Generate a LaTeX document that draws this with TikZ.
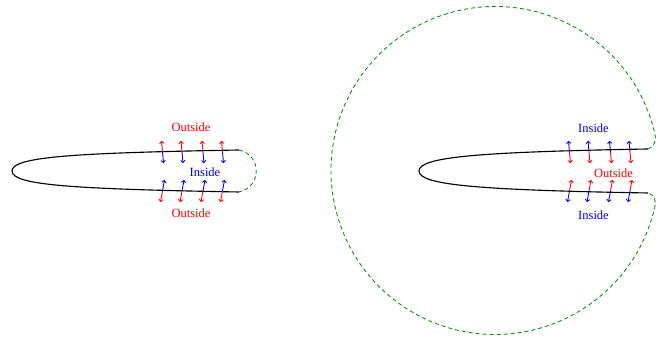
\documentclass[tikz,border=0pt]{standalone}
\usepackage{fontspec}
\setmainfont{Liberation Serif}
\usetikzlibrary{arrows.meta}
\begin{document}
\begin{tikzpicture}[x=0.8pt,y=0.8pt,
  hair/.style={line width=0.9pt},
  bound/.style={green!60!black, line width=0.7pt, dash pattern=on 3.2pt off 2.4pt},
  arr/.style={-{To[length=2.4pt,width=4pt]}, line width=0.7pt},
  lbl/.style={font=\fontsize{10}{12}\selectfont, inner sep=0pt}]
\useasboundingbox (0,0) rectangle (668,344);
% ---------- left hairpin ----------
\coordinate (A1) at (239,194);
\coordinate (AT) at (12,173);
\coordinate (A2) at (239,152);
\draw[hair] (A1) .. controls (70,191) and (12,187) .. (AT)
                 .. controls (12,159) and (70,155) .. (A2);
\draw[bound] (A1) .. controls (262,189) and (262,157) .. (A2);
\foreach \c in {162.5,182,203,222.5}{
  \coordinate (u) at (\c,192);
  \coordinate (l) at (\c,153);
  \draw[arr,red]  (u) -- ++(-1,11);
  \draw[arr,blue] (u) -- ++(1,-11);
  \draw[arr,blue] (l) -- ++(2,11);
  \draw[arr,red]  (l) -- ++(-2,-11);
}
\node[lbl,red]  (lo1) at (191,217) {Outside};
\node[lbl,blue] (li1) at (205,172) {Inside};
\node[lbl,red]  (lo2) at (191,131) {Outside};
% ---------- right hairpin ----------
\begin{scope}[xshift=407*0.8pt]
\coordinate (B1) at (241,195);
\coordinate (BT) at (12,173);
\coordinate (B2) at (241,151);
\draw[hair] (B1) .. controls (70,192) and (12,187) .. (BT)
                 .. controls (12,159) and (70,154) .. (B2);
\foreach \c in {162.5,182,203.5,223}{
  \coordinate (u) at (\c,192);
  \coordinate (l) at (\c,153);
  \draw[arr,blue] (u) -- ++(-1,11);
  \draw[arr,red]  (u) -- ++(1,-11);
  \draw[arr,red]  (l) -- ++(2,11);
  \draw[arr,blue] (l) -- ++(-2,-11);
}
\end{scope}
\coordinate (C1) at (654.8,210.4);
\draw[bound] (B1) .. controls (654,196) and (657,205) .. (C1)
   arc[start angle=13, end angle=347, radius=164]
   .. controls (657,142) and (654,150) .. (B2);
\node[lbl,blue] (ri1) at (593.5,216) {Inside};
\node[lbl,red]  (ro1) at (613.5,171) {Outside};
\node[lbl,blue] (ri2) at (593.5,128.5) {Inside};
\end{tikzpicture}
\end{document}
